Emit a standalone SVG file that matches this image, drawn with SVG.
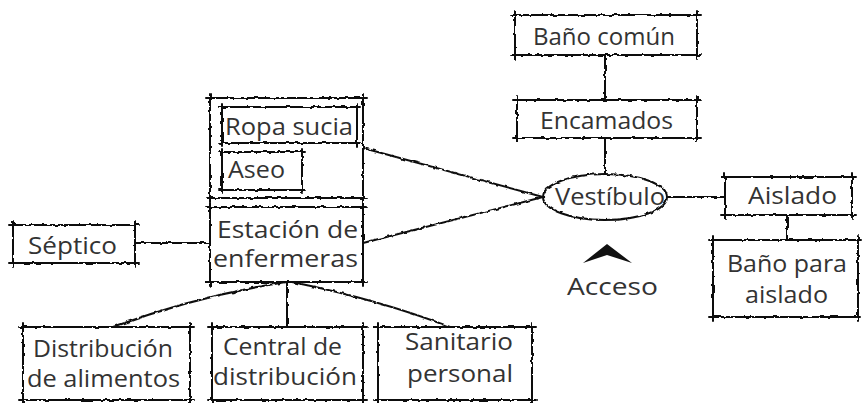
<svg xmlns="http://www.w3.org/2000/svg" width="863" height="403" viewBox="0 0 863 403">
<style>
.bx{fill:none;stroke:#111;stroke-width:2;stroke-linecap:round}
.cn{fill:none;stroke:#111;stroke-width:2;stroke-linecap:round}
.tx{font-family:"Open Sans","Noto Sans","DejaVu Sans",sans-serif;font-size:23.5px;fill:#333}
</style>
<defs>
<filter id="rough" filterUnits="userSpaceOnUse" x="0" y="0" width="863" height="403">
<feTurbulence type="fractalNoise" baseFrequency="0.22" numOctaves="1" seed="4" result="n"/>
<feDisplacementMap in="SourceGraphic" in2="n" scale="3.5" xChannelSelector="R" yChannelSelector="G"/>
</filter>
</defs>
<rect width="863" height="403" fill="#fff"/>
<g id="connectors" filter="url(#rough)">
<path class="cn" d="M605 55 V100"/>
<path class="cn" d="M605 138 V174"/>
<path class="cn" d="M363 148 L543 197"/>
<path class="cn" d="M363 243 L543 197"/>
<path class="cn" d="M667 197 H725"/>
<path class="cn" d="M787 215 V240"/>
<path class="cn" d="M135 243 H210"/>
<path class="cn" d="M287 282 Q200 295 113 327"/>
<path class="cn" d="M287 282 V327"/>
<path class="cn" d="M292 282 Q380 300 450 327"/>
</g>
<g id="bano_comun">
<path class="bx" filter="url(#rough)" d="M511 15 H701 M697 11 V59 M701 55 H511 M515 59 V11"/>
<text class="tx" x="533" y="45" textLength="142" lengthAdjust="spacingAndGlyphs">Baño común</text>
</g>
<g id="encamados">
<path class="bx" filter="url(#rough)" d="M513 100 H701 M697 96 V142 M701 138 H513 M517 142 V96"/>
<text class="tx" x="540" y="129" textLength="133" lengthAdjust="spacingAndGlyphs">Encamados</text>
</g>
<g id="vestibulo">
<ellipse class="bx" filter="url(#rough)" cx="605" cy="197" rx="62" ry="23"/>
<text class="tx" x="555" y="205" textLength="110" lengthAdjust="spacingAndGlyphs">Vestíbulo</text>
</g>
<g id="aislado">
<path class="bx" filter="url(#rough)" d="M721 177 H856 M852 173 V219 M856 215 H721 M725 219 V173"/>
<text class="tx" x="748" y="204" textLength="89" lengthAdjust="spacingAndGlyphs">Aislado</text>
</g>
<g id="bano_aislado">
<path class="bx" filter="url(#rough)" d="M709 240 H861 M858 236 V321 M861 317 H709 M713 321 V236"/>
<text class="tx" x="727" y="272" textLength="120" lengthAdjust="spacingAndGlyphs">Baño para</text>
<text class="tx" x="745" y="303" textLength="83" lengthAdjust="spacingAndGlyphs">aislado</text>
</g>
<g id="acceso">
<path d="M583 263 L607 244 L632 263 L607 255 Z" fill="#111"/>
<text class="tx" x="567" y="295" textLength="91" lengthAdjust="spacingAndGlyphs">Acceso</text>
</g>
<g id="zona_sucia">
<path class="bx" filter="url(#rough)" d="M206 98 H367 M363 94 V202 M367 198 H206 M210 202 V94"/>
</g>
<g id="ropa_sucia">
<path class="bx" filter="url(#rough)" d="M219 107 H360 M357 104 V146 M360 143 H219 M222 146 V104"/>
<text class="tx" x="225" y="135" textLength="128" lengthAdjust="spacingAndGlyphs">Ropa sucia</text>
</g>
<g id="aseo">
<path class="bx" filter="url(#rough)" d="M219 152 H305 M302 149 V193 M305 190 H219 M222 193 V149"/>
<text class="tx" x="228" y="178" textLength="57" lengthAdjust="spacingAndGlyphs">Aseo</text>
</g>
<g id="estacion">
<path class="bx" filter="url(#rough)" d="M206 207 H367 M363 203 V286 M367 282 H206 M210 286 V203"/>
<text class="tx" x="217" y="238" textLength="141" lengthAdjust="spacingAndGlyphs">Estación de</text>
<text class="tx" x="213" y="267" textLength="145" lengthAdjust="spacingAndGlyphs">enfermeras</text>
</g>
<g id="septico">
<path class="bx" filter="url(#rough)" d="M9 225 H139 M135 221 V267 M139 263 H9 M13 267 V221"/>
<text class="tx" x="28" y="254" textLength="89" lengthAdjust="spacingAndGlyphs">Séptico</text>
</g>
<g id="distribucion_alimentos">
<path class="bx" filter="url(#rough)" d="M19 327 H194 M190 323 V404 M194 400 H19 M23 404 V323"/>
<text class="tx" x="33" y="357" textLength="140" lengthAdjust="spacingAndGlyphs">Distribución</text>
<text class="tx" x="27" y="387" textLength="153" lengthAdjust="spacingAndGlyphs">de alimentos</text>
</g>
<g id="central_distribucion">
<path class="bx" filter="url(#rough)" d="M208 327 H367 M363 323 V404 M367 400 H208 M212 404 V323"/>
<text class="tx" x="223" y="355" textLength="119" lengthAdjust="spacingAndGlyphs">Central de</text>
<text class="tx" x="213" y="385" textLength="144" lengthAdjust="spacingAndGlyphs">distribución</text>
</g>
<g id="sanitario_personal">
<path class="bx" filter="url(#rough)" d="M374 327 H536 M532 323 V404 M536 400 H374 M378 404 V323"/>
<text class="tx" x="405" y="350" textLength="108" lengthAdjust="spacingAndGlyphs">Sanitario</text>
<text class="tx" x="407" y="382" textLength="106" lengthAdjust="spacingAndGlyphs">personal</text>
</g>
</svg>
